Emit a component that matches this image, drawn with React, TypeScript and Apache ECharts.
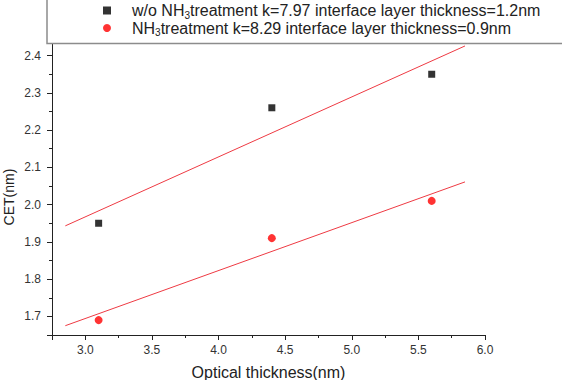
import React, { useEffect, useRef } from "react";
import * as echarts from "echarts";

const xValues = [3.1, 4.4, 5.6];
const cetWithout = [1.95, 2.26, 2.35];
const cetWith = [1.69, 1.91, 2.01];
const fitX = [2.85, 5.85];
const fitWithout = [1.943, 2.426];
const fitWith = [1.675, 2.061];
const xTicks = [3.0, 3.5, 4.0, 4.5, 5.0, 5.5, 6.0];
const yTicks = [1.7, 1.8, 1.9, 2.0, 2.1, 2.2, 2.3, 2.4];
const seriesNames = [
  "w/o NH3treatment k=7.97 interface layer thickness=1.2nm",
  "NH3treatment k=8.29 interface layer thickness=0.9nm",
];

const FONT = "'Liberation Sans', Arial, sans-serif";
const AXIS = "#222";

export default function App() {
  const ref = useRef<HTMLDivElement>(null);
  useEffect(() => {
    if (!ref.current) return;
    const chart = echarts.init(ref.current, undefined, { renderer: "svg" });
    const richName = (name: string) => {
      const i = name.indexOf("NH3");
      const before = name.slice(0, i);
      const after = name.slice(i + 3);
      return `{a|${before}NH}{s|3}{a|${after}}`;
    };
    chart.setOption({
      animation: false,
      backgroundColor: "#fff",
      textStyle: { fontFamily: FONT },
      grid: { left: 52, right: 77, top: 37, bottom: 45, outerBoundsMode: "none", containLabel: false },
      xAxis: {
        type: "value",
        min: 2.75,
        max: 6.0,
        minInterval: 0.5,
        maxInterval: 0.5,
        name: "Optical thickness(nm)",
        nameLocation: "middle",
        nameGap: 29,
        nameMoveOverlap: false,
        nameTextStyle: { fontSize: 16, color: AXIS, fontFamily: FONT },
        axisLine: { show: true, onZero: false, lineStyle: { color: AXIS, width: 1 } },
        axisTick: { show: true, inside: false, length: 5, lineStyle: { color: AXIS } },
        minorTick: { show: true, splitNumber: 2, length: 3, lineStyle: { color: AXIS } },
        splitLine: { show: false },
        minorSplitLine: { show: false },
        axisLabel: {
          customValues: xTicks,
          formatter: (v: number) => v.toFixed(1),
          fontSize: 12,
          color: "#333",
          margin: 9,
          fontFamily: FONT,
        },
      },
      yAxis: {
        type: "value",
        min: 1.65,
        max: 2.45,
        minInterval: 0.1,
        maxInterval: 0.1,
        name: "CET(nm)",
        nameLocation: "middle",
        nameGap: 36,
        nameMoveOverlap: false,
        nameTextStyle: { fontSize: 14, color: AXIS, fontFamily: FONT, padding: [0, 22, 0, 0] },
        axisLine: { show: true, onZero: false, lineStyle: { color: AXIS, width: 1 } },
        axisTick: { show: true, inside: false, length: 5, lineStyle: { color: AXIS } },
        minorTick: { show: true, splitNumber: 2, length: 3, lineStyle: { color: AXIS } },
        splitLine: { show: false },
        minorSplitLine: { show: false },
        axisLabel: {
          customValues: yTicks,
          formatter: (v: number) => v.toFixed(1),
          fontSize: 12,
          color: "#333",
          margin: 11,
          fontFamily: FONT,
        },
      },
      legend: {
        orient: "vertical",
        left: 103,
        top: 2.5,
        padding: 0,
        itemGap: 0,
        itemWidth: 8,
        itemHeight: 8,
        z: 200,
        data: [
          { name: seriesNames[0], icon: "rect" },
          { name: seriesNames[1], icon: "circle" },
        ],
        formatter: richName,
        textStyle: {
          padding: [0, 0, 0, 16],
          rich: {
            a: { fontSize: 16, lineHeight: 19, color: "#222", fontFamily: FONT, verticalAlign: "middle" },
            s: { fontSize: 10, lineHeight: 10, color: "#222", fontFamily: FONT, verticalAlign: "bottom" },
          },
        },
      },
      graphic: [
        {
          type: "rect",
          z: 100,
          shape: { x: 47, y: -10, width: 540, height: 53.5 },
          style: { fill: "#fff", stroke: "#8c8c8c", lineWidth: 1.5 },
        },
      ],
      series: [
        {
          name: seriesNames[0],
          type: "scatter",
          symbol: "rect",
          symbolSize: 7,
          itemStyle: { color: "#000" },
          data: xValues.map((x, i) => [x, cetWithout[i]]),
          z: 5,
        },
        {
          name: seriesNames[1],
          type: "scatter",
          symbol: "circle",
          symbolSize: 8,
          itemStyle: { color: "#ff0000" },
          data: xValues.map((x, i) => [x, cetWith[i]]),
          z: 5,
        },
        {
          type: "line",
          showSymbol: false,
          silent: true,
          lineStyle: { color: "#ee3a43", width: 1 },
          data: fitX.map((x, i) => [x, fitWithout[i]]),
          z: 3,
        },
        {
          type: "line",
          showSymbol: false,
          silent: true,
          lineStyle: { color: "#ee3a43", width: 1 },
          data: fitX.map((x, i) => [x, fitWith[i]]),
          z: 3,
        },
      ],
    });
    return () => chart.dispose();
  }, []);
  return <div ref={ref} style={{ width: 562, height: 380, position: "fixed", left: 0, top: 0 }} />;
}
